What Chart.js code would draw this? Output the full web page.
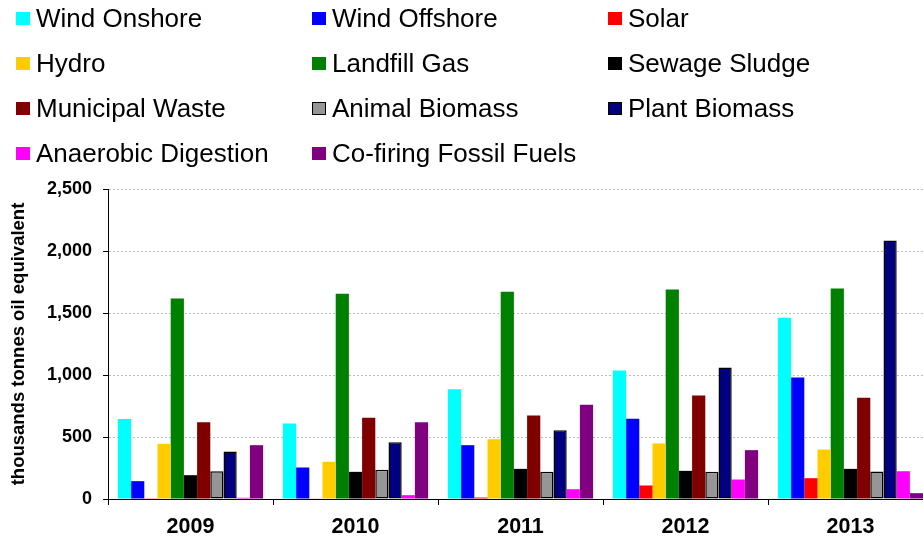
<!DOCTYPE html>
<html>
<head>
<meta charset="utf-8">
<script src="https://cdn.jsdelivr.net/npm/chart.js@4.4.1/dist/chart.umd.min.js"></script>
<style>
  html, body { margin: 0; padding: 0; background: #fff; overflow: hidden; }
  #wrap { position: relative; width: 923px; height: 541px; overflow: hidden; }
  #chart { position: absolute; left: 0; top: 0; }
  #legend { position: absolute; left: 0; top: 0; width: 923px; height: 180px;
            font-family: "Liberation Sans", Arial, sans-serif; font-size: 26px; color: #000; }
  .item { position: absolute; height: 30px; line-height: 30px; white-space: nowrap; }
  .box { position: absolute; left: 0; top: 9px; width: 14px; height: 13px; box-sizing: border-box; }
  .lbl { position: absolute; left: 20px; top: 0; }
</style>
</head>
<body>
<div id="wrap">
  <canvas id="chart" width="933" height="541"></canvas>
  <div id="legend"></div>
</div>
<script>
// Categories
const years = ["2009", "2010", "2011", "2012", "2013"];

// Series values (thousand tonnes oil equivalent)
const windOnshore   = [645, 609, 886, 1036, 1461];
const windOffshore  = [144, 254, 434, 647, 980];
const solar         = [2, 3, 12, 109, 168];
const hydro         = [445, 300, 482, 448, 399];
const landfillGas   = [1617, 1655, 1671, 1690, 1698];
const sewageSludge  = [192, 219, 243, 227, 243];
const municipal     = [619, 655, 673, 835, 816];
const animalBiomass = [224, 235, 219, 219, 222];
const plantBiomass  = [383, 458, 555, 1060, 2085];
const anaerobic     = [10, 31, 79, 157, 224];
const cofiring      = [434, 619, 760, 394, 47];

const seriesNames = ["Wind Onshore", "Wind Offshore", "Solar", "Hydro", "Landfill Gas",
  "Sewage Sludge", "Municipal Waste", "Animal Biomass", "Plant Biomass",
  "Anaerobic Digestion", "Co-firing Fossil Fuels"];
const seriesValues = [windOnshore, windOffshore, solar, hydro, landfillGas,
  sewageSludge, municipal, animalBiomass, plantBiomass, anaerobic, cofiring];
const seriesColors = ["#00FFFF", "#0000FF", "#FF0000", "#FFCC00", "#008000",
  "#000000", "#800000", "#969696", "#000080", "#FF00FF", "#800080"];
const outlined = ["Animal Biomass", "Plant Biomass"];

// Y axis ticks
const yMin = 0, yMax = 2500, yStep = 500;

const fontFamily = "'Liberation Sans', Arial, sans-serif";

const datasets = seriesNames.map((name, i) => ({
  label: name,
  data: seriesValues[i],
  backgroundColor: seriesColors[i],
  borderColor: "#000000",
  borderWidth: outlined.includes(name) ? 1.5 : 0,
  borderSkipped: false,
  categoryPercentage: 0.88,
  barPercentage: 1.0
}));

const chart = new Chart(document.getElementById("chart").getContext("2d"), {
  type: "bar",
  data: { labels: years, datasets: datasets },
  options: {
    responsive: false,
    animation: false,
    layout: { padding: { top: 189, left: 0, right: 0, bottom: 0 } },
    plugins: { legend: { display: false }, tooltip: { enabled: false } },
    scales: {
      x: {
        offset: true,
        grid: { offset: true, drawOnChartArea: false, drawTicks: true, tickLength: 6, color: "#000" },
        border: { color: "#000", width: 1 },
        ticks: { color: "#000", padding: 9, font: { family: fontFamily, size: 21.5, weight: "bold" } },
        afterFit: (scale) => { scale.height = 42; }
      },
      y: {
        min: yMin, max: yMax,
        grid: { color: "rgba(160,160,160,0.7)", tickColor: "#000", tickLength: 5 },
        border: { color: "#000", width: 1, dash: [2, 2] },
        ticks: {
          stepSize: yStep, color: "#000", padding: 11,
          font: { family: fontFamily, size: 18, weight: "bold" },
          callback: (v) => v.toLocaleString("en-US")
        },
        title: {
          display: true, text: "thousands tonnes oil equivalent", color: "#000",
          padding: { top: 8, bottom: 0 },
          font: { family: fontFamily, size: 18.5, weight: "bold" }
        },
        afterFit: (scale) => { scale.width = 108; }
      }
    }
  }
});

// HTML legend in three columns, four rows, built from the chart datasets
const legendEl = document.getElementById("legend");
const colX = [16, 312, 608];
const rowY = [3, 48, 93, 138];
chart.data.datasets.forEach((ds, i) => {
  const item = document.createElement("div");
  item.className = "item";
  item.style.left = colX[i % 3] + "px";
  item.style.top = rowY[Math.floor(i / 3)] + "px";
  const box = document.createElement("span");
  box.className = "box";
  box.style.background = ds.backgroundColor;
  if (ds.borderWidth > 0) box.style.border = "1px solid #000";
  const lbl = document.createElement("span");
  lbl.className = "lbl";
  lbl.textContent = ds.label;
  item.appendChild(box);
  item.appendChild(lbl);
  legendEl.appendChild(item);
});
</script>
</body>
</html>
